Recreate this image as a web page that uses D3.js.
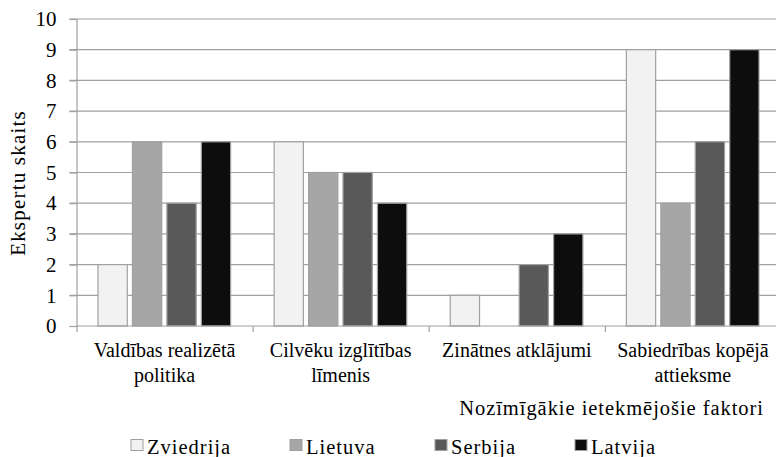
<!DOCTYPE html>
<html>
<head>
<meta charset="utf-8">
<script src="https://cdn.jsdelivr.net/npm/d3@7"></script>
<style>
  body { margin: 0; background: #fff; }
  svg text { font-family: "Liberation Serif", "Times New Roman", serif; }
</style>
</head>
<body>
<div class="chart"></div>
<script>
// Data
const categories = [
  ["Valdības realizētā", "politika"],
  ["Cilvēku izglītības", "līmenis"],
  ["Zinātnes atklājumi"],
  ["Sabiedrības kopējā", "attieksme"]
];
const seriesNames = ["Zviedrija", "Lietuva", "Serbija", "Latvija"];
const zviedrija = [2, 6, 1, 9];
const lietuva = [6, 5, 0, 4];
const serbija = [4, 5, 2, 6];
const latvija = [6, 4, 3, 9];
const yTicks = [0, 1, 2, 3, 4, 5, 6, 7, 8, 9, 10];
const colors = ["#f2f2f2", "#a6a6a6", "#595959", "#0d0d0d"];

const FONT = "Liberation Serif";
const W = 776, H = 457;
const margin = {top: 19, left: 76.5, right: -5, bottom: 131};
const w = W - margin.left - margin.right;
const h = H - margin.top - margin.bottom;

const svg = d3.select(".chart")
  .append("svg")
  .attr("width", W)
  .attr("height", H)
  .attr("font-family", FONT);

const g = svg.append("g")
  .attr("transform", `translate(${margin.left}, ${margin.top})`);

const catIdx = categories.map((d, i) => i);
const x0 = d3.scaleBand().domain(catIdx).range([0, w]);
const x1 = d3.scaleBand().domain(seriesNames).range([21.5, x0.bandwidth() - 22]).paddingInner(0.15);
const y = d3.scaleLinear().domain([0, 10]).range([h, 0]);

// gridlines
g.append("g")
  .selectAll("line")
  .data(yTicks.filter(d => d > 0))
  .enter()
  .append("line")
  .attr("x1", -7)
  .attr("x2", w)
  .attr("y1", d => y(d))
  .attr("y2", d => y(d))
  .attr("stroke", "#a0a0a0")
  .attr("stroke-width", 1.2);

// y axis
const yAxis = d3.axisLeft(y).tickValues(yTicks).tickSize(7).tickPadding(13);
g.append("g")
  .call(yAxis)
  .attr("font-family", FONT)
  .attr("font-size", 21)
  .call(s => s.select(".domain").attr("stroke", "#a0a0a0").attr("stroke-width", 1.2))
  .call(s => s.selectAll(".tick line").attr("stroke", "#a0a0a0").attr("stroke-width", 1.2))
  .call(s => s.selectAll(".tick text").attr("fill", "#000"));

// bars
const series = [zviedrija, lietuva, serbija, latvija];
seriesNames.forEach((name, si) => {
  g.append("g")
    .selectAll("rect")
    .data(series[si].map((v, ci) => ({v, ci})).filter(d => d.v > 0))
    .enter()
    .append("rect")
    .attr("x", d => x0(d.ci) + x1(name))
    .attr("y", d => y(d.v))
    .attr("width", x1.bandwidth())
    .attr("height", d => h - y(d.v))
    .attr("fill", colors[si])
    .attr("stroke", "#a0a0a0")
    .attr("stroke-width", 1.2);
});

// x axis
const xAxis = d3.axisBottom(d3.scaleLinear().domain([0, 4]).range([0, x0.bandwidth() * 4]))
  .tickValues([0, 1, 2, 3, 4]).tickSize(6).tickFormat("");
g.append("g")
  .attr("transform", `translate(0, ${h})`)
  .call(xAxis)
  .call(s => s.select(".domain").attr("stroke", "#a0a0a0").attr("stroke-width", 1.2).attr("d", `M0,0H${w}`))
  .call(s => s.selectAll(".tick line").attr("stroke", "#a0a0a0").attr("stroke-width", 1.2));

// category labels
categories.forEach((lines, i) => {
  lines.forEach((l, li) => {
    g.append("text")
      .attr("x", x0(i) + x0.bandwidth() / 2)
      .attr("y", h + 31 + li * 25)
      .attr("text-anchor", "middle")
      .attr("font-size", 20)
      .text(l);
  });
});

// axis titles
svg.append("text")
  .attr("x", 764)
  .attr("y", 415)
  .attr("text-anchor", "end")
  .attr("font-size", 20.5)
  .attr("letter-spacing", 0.95)
  .text("Nozīmīgākie ietekmējošie faktori");

svg.append("text")
  .attr("transform", "translate(25, 183) rotate(-90)")
  .attr("text-anchor", "middle")
  .attr("font-size", 21)
  .attr("letter-spacing", 1.2)
  .text("Ekspertu  skaits");

// legend
const legendX = [131, 290, 435, 575];
const legend = svg.append("g");
seriesNames.forEach((name, i) => {
  legend.append("rect")
    .attr("x", legendX[i])
    .attr("y", 439.5)
    .attr("width", 12)
    .attr("height", 11)
    .attr("fill", colors[i])
    .attr("stroke", "#a0a0a0")
    .attr("stroke-width", 1);
  legend.append("text")
    .attr("x", legendX[i] + 16)
    .attr("y", 454)
    .attr("font-size", 20.5)
    .attr("letter-spacing", 1)
    .text(name);
});
</script>
</body>
</html>
